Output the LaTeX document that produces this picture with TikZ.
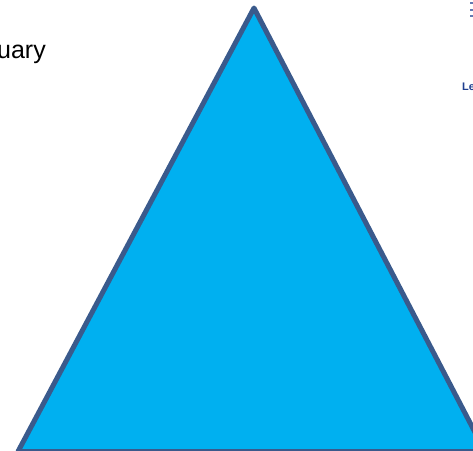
\documentclass[tikz,border=0pt]{standalone}
\usepackage{fontspec}
\setmainfont{Liberation Sans}
\usepackage{tikz}
\usetikzlibrary{positioning}
\definecolor{skyfill}{RGB}{0,176,240}
\definecolor{edgeblue}{RGB}{58,90,140}
\definecolor{logoblue}{RGB}{31,63,143}

\begin{document}
\begin{tikzpicture}[x=1pt,y=-1pt,
  tri/.style={draw=edgeblue, fill=skyfill, line width=5pt, line join=round},
  title/.style={inner sep=0pt, anchor=base east, font=\fontsize{25}{28}\selectfont},
  logo/.style={inner sep=0pt, anchor=base west, text=logoblue, font=\fontsize{11}{12}\selectfont\bfseries},
  logodot/.style={fill=logoblue!70}
]
  \useasboundingbox (0,0) rectangle (473,450);
  \clip (0,0) rectangle (473,450);
  \coordinate (apex) at (254,8);
  \coordinate (left) at (18,451.5);
  \coordinate (right) at (485,451.5);
  \draw[tri] (apex) -- (left) -- (right) -- cycle;
  \node[title] (head) at (46,58) {uary};
  \node[logo] (lbl) at (462,90) {Le};
  \fill[logodot] (470,2) rectangle (473,4);
  \fill[logodot] (470,9) rectangle (473,11);
  \fill[logodot] (470,15) rectangle (473,17);
\end{tikzpicture}
\end{document}
